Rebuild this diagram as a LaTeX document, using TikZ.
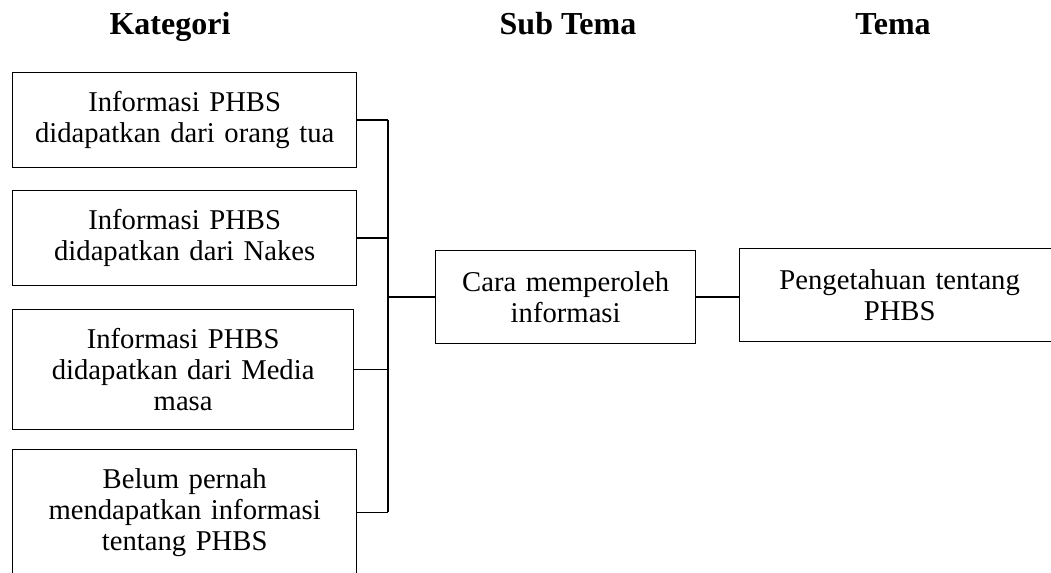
\documentclass[tikz,border=0pt]{standalone}
\usepackage{fontspec}
\setmainfont{Liberation Serif}
\tikzset{
  kotak/.style={draw, line width=1pt, align=center, inner xsep=4pt, inner ysep=14pt,
    font=\fontsize{21.5}{23.3}\selectfont, anchor=north west},
  judul/.style={font=\fontsize{24}{28}\selectfont\bfseries, anchor=base}
}
\begin{document}
\begin{tikzpicture}[x=0.75pt, y=-0.75pt]
\useasboundingbox (0,0) rectangle (1051,573);

\node [judul] (jk) at (170,35) {Kategori};
\node [judul] (js) at (568,35) {Sub Tema};
\node [judul] (jt) at (893,35) {Tema};

\node [kotak, text width=250pt] (k1) at (12,72) {Informasi PHBS\\ didapatkan dari orang tua};
\node [kotak, text width=250pt] (k2) at (12,190) {Informasi PHBS\\ didapatkan dari Nakes};
\node [kotak, text width=247.75pt] (k3) at (12,309) {Informasi PHBS\\ didapatkan dari Media\\ masa};
\node [kotak, text width=250pt] (k4) at (12,449) {Belum pernah\\ mendapatkan informasi\\ tentang PHBS};

\node [kotak, text width=187pt, minimum height=69.75pt] (sub) at (435,250) {Cara memperoleh\\ informasi};
\node [kotak, text width=232pt, minimum height=69.75pt] (tema) at (739,248) {Pengetahuan tentang\\ PHBS};

\coordinate (bus) at (388,0);
\foreach \k in {k1,k2,k3,k4} {
\draw [line width=1pt] (\k.east) -- (\k.east -| bus);}
\draw [line width=1pt] (k1.east -| bus) -- (k4.east -| bus);
\draw [line width=1pt] (sub.west -| bus) -- (sub.west);
\draw [line width=1pt] (sub.east) -- (sub.east -| tema.west);
\end{tikzpicture}
\end{document}
